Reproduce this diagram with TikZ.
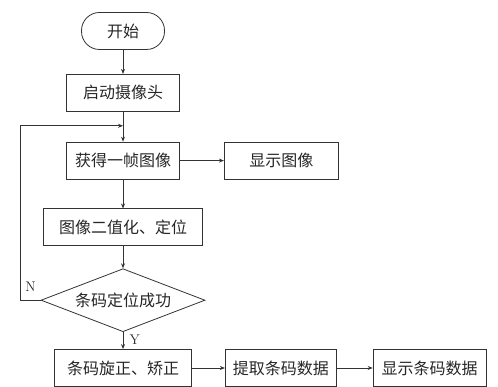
\documentclass[tikz,border=0pt]{standalone}
\usepackage{fontspec}
\usepackage{tikz}
\usetikzlibrary{positioning, arrows.meta, shapes.geometric, calc}
\newfontfamily\cjk{Noto Sans CJK SC}

\begin{document}
\begin{tikzpicture}[x=1pt, y=-1pt, >={Stealth[length=5pt, width=4pt]},
    line width=0.8pt, draw=black!80,
    every node/.style={text=black!85, font=\cjk\fontsize{16}{18}\selectfont},
    box/.style={draw, rectangle, minimum height=37pt, inner sep=2pt},
    term/.style={draw, rectangle, rounded corners=18pt, minimum height=37pt, minimum width=83pt},
    decision/.style={draw, diamond, aspect=2.6, inner sep=0pt, minimum width=164pt, minimum height=63pt},
    yn/.style={font=\rmfamily\fontsize{14}{16}\selectfont}]
    \useasboundingbox (0,0) rectangle (498,387);

    \node[term] (start) at (123,31) {开始};
    \node[box, minimum width=113pt] (cam) [below=24pt of start] {启动摄像头};
    \node[box, minimum width=113pt] (frame) [below=30pt of cam] {获得一帧图像};
    \node[box, minimum width=114pt] (show) [right=44pt of frame] {显示图像};
    \node[box, minimum width=159pt] (bin) [below=29pt of frame] {图像二值化、定位};
    \node[decision] (check) [below=22pt of bin] {条码定位成功};
    \node[box, minimum width=137pt] (rot) [below=17pt of check] {条码旋正、矫正};
    \node[box, minimum width=111pt] (ext) [right=33pt of rot] {提取条码数据};
    \node[box, minimum width=113pt] (disp) [right=36pt of ext] {显示条码数据};

    \coordinate (join) at ($(cam.south)!0.47!(frame.north)$);

    \draw[->] (start) -- (cam);
    \draw[->] (cam) -- (frame);
    \draw[->] (frame) -- (show);
    \draw[->] (frame) -- (bin);
    \draw[->] (bin) -- (check);
    \draw[->] (check) -- node[yn, right=3pt, pos=0.45]{Y} (rot);
    \draw[->] (rot) -- (ext);
    \draw[->] (ext) -- (disp);
    \draw[->] (check.west) -- node[yn, above=5pt, pos=0.5]{N} ++(-20,0) |- (join);
\end{tikzpicture}
\end{document}
